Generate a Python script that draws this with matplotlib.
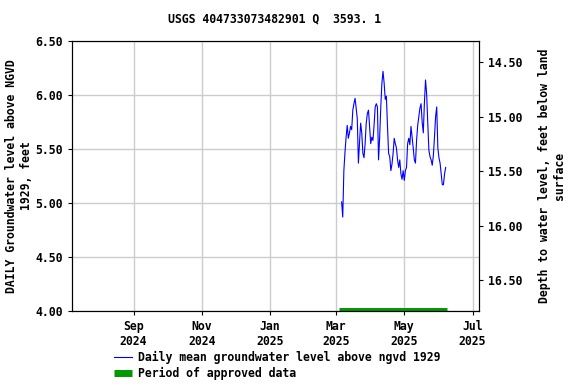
import numpy as np
import pandas as pd
import matplotlib
matplotlib.use("Agg")
import matplotlib.pyplot as plt
import matplotlib.dates as dates
import matplotlib.ticker as ticker

# daily mean groundwater level, ft above NGVD 1929
start_day = "2025-03-06"
levels = [
  5.01, 4.87, 5.30, 5.47, 5.61, 5.72, 5.60, 5.65, 5.71, 5.68, 5.86, 5.92, 5.97, 5.88, 5.78, 5.37,
  5.56, 5.74, 5.65, 5.46, 5.42, 5.55, 5.74, 5.83, 5.86, 5.71, 5.55, 5.61, 5.58, 5.72, 5.89, 5.92,
  5.89, 5.40, 5.61, 5.89, 6.11, 6.22, 6.11, 5.96, 5.99, 5.71, 5.46, 5.43, 5.30, 5.36, 5.46, 5.60,
  5.55, 5.51, 5.40, 5.33, 5.40, 5.27, 5.22, 5.30, 5.21, 5.30, 5.33, 5.55, 5.60, 5.54, 5.71, 5.61,
  5.51, 5.40,
  5.37, 5.58, 5.72, 5.80, 5.88, 5.92, 5.75, 5.65, 5.93, 6.14, 6.01, 5.74, 5.49, 5.43, 5.40, 5.35,
  5.44, 5.61, 5.80, 5.89, 5.51, 5.42, 5.37, 5.27, 5.17, 5.17, 5.27, 5.33]
approved = ["2025-03-04", "2025-06-08"]
x_range = ["2024-07-08", "2025-07-07"]
left_ticks = [4.0, 4.5, 5.0, 5.5, 6.0, 6.5]
right_ticks = [14.5, 15.0, 15.5, 16.0, 16.5]

days = pd.date_range(start_day, periods=len(levels), freq="D")
plt.rcParams['font.family'] = ['DejaVu Sans Mono']
plt.rcParams['font.weight'] = 'bold'
fs = 8.3

fig = plt.figure(figsize=(5.76, 3.84), dpi=100)
ax1 = fig.add_axes([0.125, 0.190, 0.707, 0.703])
ax1.plot(days, levels, color='#0000ff', linewidth=0.8, label='Daily mean groundwater level above ngvd 1929')
ax1.plot(pd.to_datetime(approved), [4.0, 4.0], color='#009900', linewidth=5, solid_capstyle='butt',
         label='Period of approved data')
ax1.set_xlim(pd.to_datetime(x_range[0]), pd.to_datetime(x_range[1]))
ax1.set_ylim(4.0, 6.5)
ax1.set_yticks(left_ticks)
ax1.yaxis.set_major_formatter(ticker.FormatStrFormatter('%.2f'))
ax1.xaxis.set_major_locator(dates.MonthLocator(bymonth=[1, 3, 5, 7, 9, 11]))
ax1.xaxis.set_major_formatter(dates.DateFormatter('%b\n%Y'))
ax1.grid(True, color='#cccccc', linewidth=1)
ax1.tick_params(labelsize=fs, length=3)
ax1.set_ylabel('DAILY Groundwater level above NGVD\n1929, feet', fontsize=fs, fontweight='bold', labelpad=2)

ax2 = ax1.twinx()
ax2.set_ylim(16.785, 14.304)
ax2.set_yticks(right_ticks)
ax2.yaxis.set_major_formatter(ticker.FormatStrFormatter('%.2f'))
ax2.tick_params(labelsize=fs, length=3)
ax2.set_ylabel('Depth to water level, feet below land\nsurface', fontsize=fs, fontweight='bold', labelpad=11)

fig.text(0.477, 0.95, 'USGS 404733073482901 Q  3593. 1', ha='center', va='center', fontsize=fs, fontweight='bold')
h, l = ax1.get_legend_handles_labels()
fig.legend(h, l, loc='upper left', bbox_to_anchor=(0.19, 0.098), frameon=False, fontsize=fs,
           handlelength=1.6, handletextpad=0.5, labelspacing=0.25, borderaxespad=0)

fig.savefig('out.png', dpi=100)
